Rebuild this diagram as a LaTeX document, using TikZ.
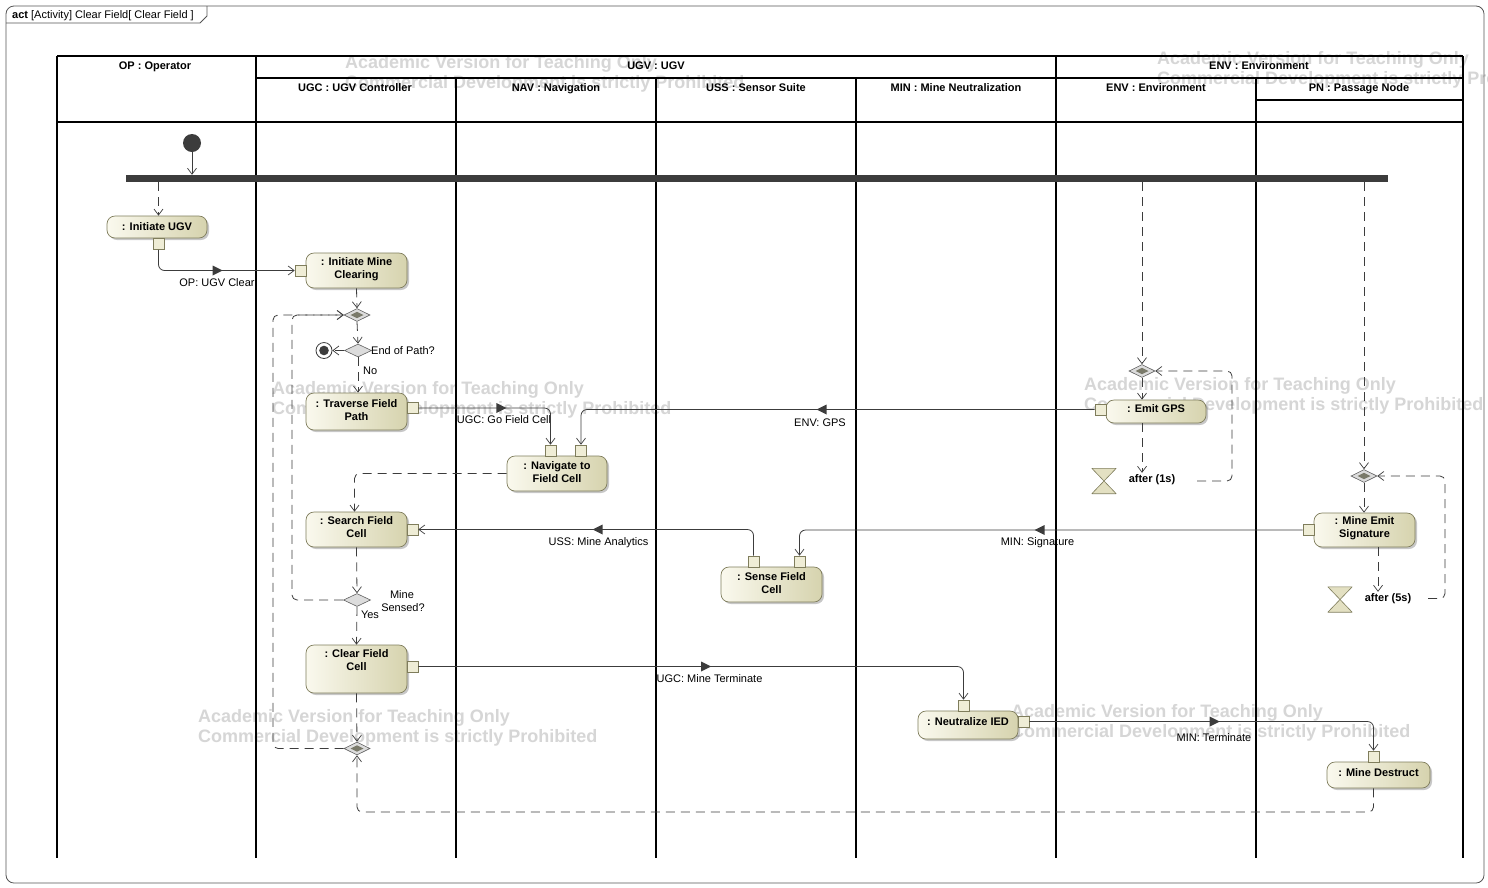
\documentclass[tikz,border=0pt]{standalone}
\usepackage{fontspec}
\setmainfont{Liberation Sans}
\usetikzlibrary{arrows.meta,shapes.geometric,shadows,decorations.markings,calc}
\definecolor{flowc}{HTML}{3C3C3C}
\definecolor{actL}{HTML}{FAF9EE}
\definecolor{actR}{HTML}{D6D3AE}
\definecolor{actB}{HTML}{7F7D5C}
\definecolor{pinF}{HTML}{EFEDD6}
\definecolor{wm}{HTML}{D6D6D6}
\definecolor{framec}{HTML}{555555}
\definecolor{hgF}{HTML}{E3E0C2}
\definecolor{decF}{HTML}{DCDCDC}
\definecolor{mrgI}{HTML}{7A7A6A}
\begin{document}
\begin{tikzpicture}[x=1pt,y=-1pt,
  lane/.style={line width=1.6pt, draw=black},
  hdr/.style={font=\fontsize{11}{12}\selectfont\bfseries, inner sep=1pt, anchor=base},
  act/.style={draw=actB, line width=0.7pt, rounded corners=8pt, left color=actL, right color=actR,
    font=\fontsize{11}{13}\selectfont\bfseries, align=center, inner sep=0pt, text height=8pt,
    drop shadow={shadow xshift=2pt, shadow yshift=-2pt, fill=black, opacity=0.22}},
  acttwo/.style={text height=21pt, text depth=#1},
  pinbox/.style={draw=actB, fill=pinF, line width=0.6pt, minimum width=11pt, minimum height=11pt, inner sep=0pt},
  cflow/.style={draw=flowc, line width=0.8pt, dash pattern=on 9pt off 6pt, rounded corners=5pt,
    -{Straight Barb[length=6pt,width=9pt,line width=0.7pt]}},
  sflow/.style={draw=flowc, line width=0.8pt, -{Straight Barb[length=6pt,width=9pt,line width=0.7pt]}},
  oflow/.style={draw=flowc, line width=0.8pt, rounded corners=6pt,
    -{Straight Barb[length=6pt,width=9pt,line width=0.7pt]},
    postaction={decorate},
    decoration={markings, mark=at position 0.5 with {\fill[flowc, sharp corners] (5pt,0pt) -- (-5pt,5pt) -- (-5pt,-5pt) -- cycle;}}},
  lbl/.style={font=\fontsize{11}{13}\selectfont, inner sep=1pt, anchor=base},
  lblb/.style={font=\fontsize{11}{13}\selectfont\bfseries, inner sep=1pt, anchor=base},
  wmark/.style={text=wm, font=\fontsize{18}{20}\selectfont\bfseries, align=left, anchor=north west, inner sep=0pt},
  mergen/.style={diamond, draw=gray!75!black, fill=decF, line width=0.6pt, minimum width=26pt, minimum height=13pt, inner sep=0pt,
    path picture={\fill[mrgI, sharp corners] ($(path picture bounding box.center)+(-6.5pt,0pt)$) -- ++(6.5pt,3.2pt) -- ++(6.5pt,-3.2pt) -- ++(-6.5pt,-3.2pt) -- cycle;}},
  decn/.style={diamond, draw=gray!75!black, fill=decF, line width=0.6pt, minimum width=27pt, minimum height=13pt, inner sep=0pt},
  initn/.style={circle, fill=flowc, minimum size=18pt, inner sep=0pt},
  finn/.style={circle, draw=flowc, fill=white, line width=0.8pt, minimum size=16pt, inner sep=0pt,
    path picture={\fill[flowc] (path picture bounding box.center) circle (4.8pt);}},
  hgbox/.style={minimum width=24pt, minimum height=25pt, inner sep=0pt},
  hgdraw/.style={draw=actB, fill=hgF, line width=0.6pt, line join=round},
  forkbar/.style={rectangle, fill=flowc, minimum width=1262pt, minimum height=7pt, inner sep=0pt}
]
\useasboundingbox (0,0) rectangle (1488,887);
\fill[white] (0,0) rectangle (1488,887);

% watermarks (behind)
\node[wmark] (wm1) at (345,55) {Academic Version for Teaching Only\\Commercial Development is strictly Prohibited};
\node[wmark] (wm2) at (1157,51) {Academic Version for Teaching Only\\Commercial Development is strictly Prohibited};
\node[wmark] (wm3) at (272,381) {Academic Version for Teaching Only\\Commercial Development is strictly Prohibited};
\node[wmark] (wm4) at (1084,377) {Academic Version for Teaching Only\\Commercial Development is strictly Prohibited};
\node[wmark] (wm5) at (198,709) {Academic Version for Teaching Only\\Commercial Development is strictly Prohibited};
\node[wmark] (wm6) at (1011,704) {Academic Version for Teaching Only\\Commercial Development is strictly Prohibited};

% frame
\draw[framec, line width=0.8pt, rounded corners=8pt] (6,6) rectangle (1484,883);
\draw[framec, line width=0.8pt] (6,23) -- (200,23) -- (207,16) -- (207,6);
\node[font=\fontsize{11}{13}\selectfont, anchor=base west, inner sep=0pt] (title) at (12,18) {\textbf{act} [Activity] Clear Field[ Clear Field ]};

% swimlanes
\draw[lane] (57,56) -- (1463,56);
\draw[lane] (256,78) -- (1463,78);
\draw[lane] (1256,100) -- (1463,100);
\draw[lane] (57,122) -- (1463,122);
\foreach \x in {57,256,1056,1463} \draw[lane] (\x,56) -- (\x,858);
\foreach \x in {456,656,856,1256} \draw[lane] (\x,78) -- (\x,858);

\node[hdr] (hOP) at (155,69) {OP : Operator};
\node[hdr] (hUGV) at (656,69) {UGV : UGV};
\node[hdr] (hENVp) at (1259,69) {ENV : Environment};
\node[hdr] (hUGC) at (355,91) {UGC : UGV Controller};
\node[hdr] (hNAV) at (556,91) {NAV : Navigation};
\node[hdr] (hUSS) at (756,91) {USS : Sensor Suite};
\node[hdr] (hMIN) at (956,91) {MIN : Mine Neutralization};
\node[hdr] (hENV) at (1156,91) {ENV : Environment};
\node[hdr] (hPN) at (1359,91) {PN : Passage Node};

% control nodes
\node[initn] (init) at (192,143) {};
\node[forkbar] (fork) at (757,178.5) {};
\node[mergen] (m1) at (357,315) {};
\node[decn] (d1) at (358,350.5) {};
\node[finn] (f1) at (324,350.5) {};
\node[decn] (d2) at (357,600) {};
\node[mergen] (m2) at (357,748.5) {};
\node[mergen] (mENV) at (1142,371) {};
\node[mergen] (mPN) at (1364,476) {};

% actions
\node[act, minimum width=100pt, minimum height=22pt, text depth=2pt] (aInitUGV) at (157,227) {: Initiate UGV};
\node[act, acttwo=6pt, minimum width=101pt, minimum height=35pt] (aInitMine) at (356.5,270.5) {: Initiate Mine\\Clearing};
\node[act, acttwo=4pt, minimum width=101pt, minimum height=37pt] (aTraverse) at (356.5,411.5) {: Traverse Field\\Path};
\node[act, acttwo=4pt, minimum width=100pt, minimum height=35pt] (aNav) at (557,473.5) {: Navigate to\\Field Cell};
\node[act, acttwo=6pt, minimum width=101pt, minimum height=35pt] (aSearch) at (356.5,529.5) {: Search Field\\Cell};
\node[act, acttwo=19pt, minimum width=101pt, minimum height=48pt] (aClear) at (356.5,669) {: Clear Field\\Cell};
\node[act, acttwo=4pt, minimum width=101pt, minimum height=35pt] (aSense) at (771.5,584.5) {: Sense Field\\Cell};
\node[act, minimum width=100pt, minimum height=23pt, text depth=7pt] (aEmitGPS) at (1156,411.5) {: Emit GPS};
\node[act, acttwo=7pt, minimum width=101pt, minimum height=34pt] (aMineEmit) at (1364.5,530) {: Mine Emit\\Signature};
\node[act, minimum width=100pt, minimum height=28pt, text depth=8pt] (aNeut) at (968,725) {: Neutralize IED};
\node[act, minimum width=103pt, minimum height=26pt, text depth=6pt] (aDestruct) at (1378.5,775) {: Mine Destruct};

% pins
\node[pinbox] (pInitUGV) at (158.5,244) {};
\node[pinbox] (pInitMine) at (300.5,270.5) {};
\node[pinbox] (pTrav) at (412.5,408) {};
\node[pinbox] (pNav1) at (550.5,450.5) {};
\node[pinbox] (pNav2) at (581,450.5) {};
\node[pinbox] (pGPS) at (1100.5,409.5) {};
\node[pinbox] (pEmit) at (1308.5,530) {};
\node[pinbox] (pS1) at (753.5,561.5) {};
\node[pinbox] (pS2) at (799.5,561.5) {};
\node[pinbox] (pSearch) at (412.5,529.5) {};
\node[pinbox] (pClear) at (412.5,666.5) {};
\node[pinbox] (pN1) at (963.5,705.5) {};
\node[pinbox] (pN2) at (1023.5,721.5) {};
\node[pinbox] (pD) at (1373.5,756.5) {};

% time events
\node[hgbox] (tENV) at (1104,481) {};
\draw[hgdraw] (tENV.north west) -- (tENV.north east) -- (tENV.south west) -- (tENV.south east) -- cycle;
\node[lblb] (lblENV) at (1152,482) {after (1s)};
\node[hgbox] (tPN) at (1340,599.5) {};
\draw[hgdraw] (tPN.north west) -- (tPN.north east) -- (tPN.south west) -- (tPN.south east) -- cycle;
\node[lblb] (lblPN) at (1388,601) {after (5s)};

% labels
\node[lbl] (lOP) at (217,286) {OP: UGV Clear};
\node[lbl, anchor=base west] (lEnd) at (370,354) {End of Path?};
\node[lbl, anchor=base west] (lNo) at (362,374) {No};
\node[lbl] (lGo) at (504,423) {UGC: Go Field Cell};
\node[lbl] (lGPS) at (820,426) {ENV: GPS};
\node[lbl] (lUSS) at (598.5,545) {USS: Mine Analytics};
\node[lbl] (lMIN) at (1037.5,545) {MIN: Signature};
\node[lbl] (lMine1) at (402,598) {Mine};
\node[lbl] (lMine2) at (403,611) {Sensed?};
\node[lbl] (lYes) at (370,618) {Yes};
\node[lbl] (lTerm1) at (709.5,682) {UGC: Mine Terminate};
\node[lbl] (lTerm2) at (1214,741) {MIN: Terminate};

% helper coordinates
\coordinate (cIn) at (292,315);
\coordinate (cOut) at (273,315);
\coordinate (cBot) at (1373.5,812);
\coordinate (cENVa) at (1197,481);
\coordinate (cENVb) at (1232,371);
\coordinate (cPNx) at (1378,590);
\coordinate (cPNa) at (1428,598.5);
\coordinate (cPNb) at (1445,476);

% flows
\draw[sflow] (init.south) -- (init.south |- fork.north);
\draw[cflow] (fork.south -| pInitUGV) -- (aInitUGV.north -| pInitUGV);
\draw[oflow] (pInitUGV.south) |- (pInitMine.west);
\draw[cflow] (aInitMine.south) -- (m1.north);
\draw[cflow] (m1.south) -- (d1.north);
\draw[cflow] (d1.west) -- (f1.east);
\draw[cflow] (d1.south) -- (d1.south |- aTraverse.north);
\draw[oflow] (pTrav.east) -| (pNav1.north);
\draw[oflow] (pGPS.west) -| (pNav2.north);
\draw[cflow] (aNav.west) -| ([xshift=-2pt]aSearch.north);
\draw[cflow] (aSearch.south) -- (d2.north);
\draw[cflow] (d2.west) -| (cIn) -- (m1.west);
\draw[oflow] (pS1.north) |- (pSearch.east);
\draw[oflow] (pEmit.west) -| (pS2.north);
\draw[cflow] (d2.south) -- (aClear.north);
\draw[oflow] (pClear.east) -| (pN1.north);
\draw[oflow] (pN2.east) -| (pD.north);
\draw[cflow] (aClear.south) -- (m2.north);
\draw[cflow] (m2.west) -| (cOut) -- (m1.west);
\draw[cflow] (aDestruct.south -| pD) -- (cBot) -| (m2.south);

\draw[cflow] (fork.south -| mENV) -- (mENV.north);
\draw[cflow] (mENV.south) -- (mENV.south |- aEmitGPS.north);
\draw[cflow] (aEmitGPS.south -| mENV) -- (mENV |- lblENV.north);
\draw[cflow] (cENVa) -| (cENVb) -- (mENV.east);

\draw[cflow] (fork.south -| mPN) -- (mPN.north);
\draw[cflow] (mPN.south) -- (mPN.south |- aMineEmit.north);
\draw[cflow] (aMineEmit.south -| cPNx) -- (cPNx |- lblPN.north);
\draw[cflow] (cPNa) -| (cPNb) -- (mPN.east);
\end{tikzpicture}
\end{document}
